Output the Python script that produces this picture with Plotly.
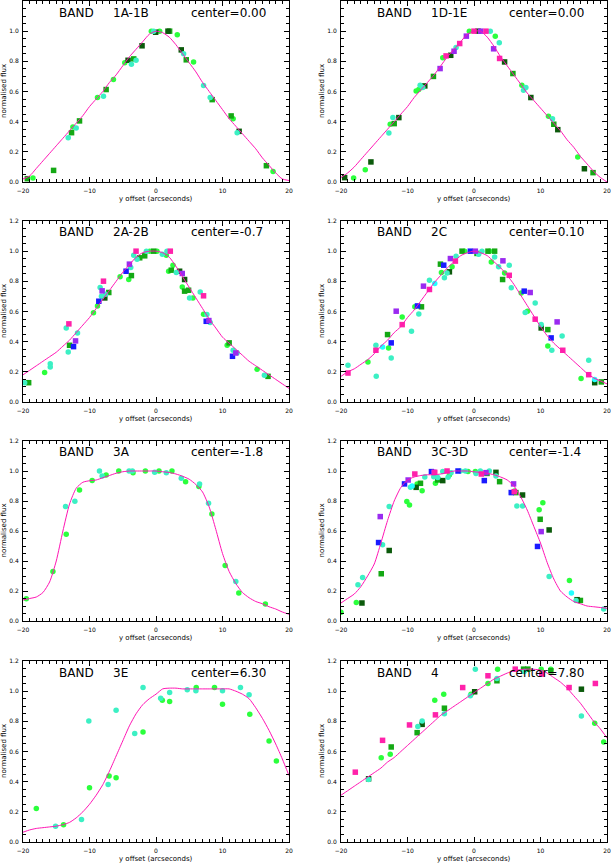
import plotly.graph_objects as go

# ---------------- data ----------------
CURVE_X = [-20, -19, -18, -17, -16, -15, -14, -13, -12, -11, -10, -9, -8, -7, -6, -5, -4, -3, -2, -1,
           0, 1, 2, 3, 4, 5, 6, 7, 8, 9, 10, 11, 12, 13, 14, 15, 16, 17, 18, 19, 20]

BANDS = ["1A-1B", "1D-1E", "2A-2B", "2C", "3A", "3C-3D", "3E", "4"]
CENTERS = ["0.00", "0.00", "-0.7", "0.10", "-1.8", "-1.4", "6.30", "7.80"]

# colour codes: L lime, G green, D dark green, T turquoise, C cyan, B blue, P purple, M magenta
P1_X = [-19.35, -18.5, -15.4, -13.2, -12.7, -12.5, -12.0, -11.5, -8.8, -7.9, -7.5, -6.4, -4.7, -4.2, -3.7,
        -3.35, -3.0, -2.1, -0.7, -0.35, -0.05, 0.55, 1.8, 2.05, 3.2, 3.8, 4.15, 4.55, 5.65, 7.15, 8.15, 8.45,
        11.3, 11.6, 12.2, 12.5, 16.6, 17.6]
P1_Y = [0.022, 0.027, 0.077, 0.294, 0.327, 0.365, 0.358, 0.405, 0.56, 0.569, 0.613, 0.679, 0.79, 0.807, 0.781,
        0.816, 0.807, 0.903, 1.0, 1.0, 0.993, 1.0, 1.0, 1.0, 0.976, 0.876, 0.85, 0.81, 0.796, 0.64, 0.56, 0.546,
        0.438, 0.42, 0.327, 0.336, 0.108, 0.069]
P1_C = "G L G T G L T G L T G L L D T G T D L T D L D G L D T G L T T G G L T D G L"
P1_CURVE = [0.02, 0.04, 0.09, 0.14, 0.19, 0.24, 0.29, 0.34, 0.39, 0.44, 0.50, 0.55, 0.60, 0.66, 0.71, 0.77,
            0.83, 0.88, 0.93, 0.98, 1.0, 0.99, 0.96, 0.91, 0.85, 0.79, 0.73, 0.66, 0.60, 0.54, 0.48, 0.42,
            0.37, 0.32, 0.27, 0.22, 0.16, 0.11, 0.06, 0.02, 0.01]

P2_X = [-19.45, -18.1, -16.35, -15.5, -12.8, -12.6, -12.2, -12.0, -11.3, -8.7, -8.3, -8.1, -7.7, -7.4, -6.1,
        -5.1, -4.7, -4.2, -3.5, -3.0, -2.7, -2.15, -1.15, -0.7, 0.0, 0.6, 1.0, 1.8, 2.45, 3.2, 2.95, 3.8, 3.85,
        4.6, 5.85, 7.2, 7.45, 7.8, 8.55, 11.2, 11.8, 12.0, 12.6, 15.6, 16.6, 17.9]
P2_Y = [0.029, 0.027, 0.082, 0.133, 0.325, 0.383, 0.427, 0.387, 0.427, 0.604, 0.613, 0.642, 0.626, 0.637, 0.70,
        0.752, 0.823, 0.836, 0.84, 0.867, 0.892, 0.918, 0.967, 1.0, 1.0, 1.0, 1.0, 1.0, 1.0, 0.967, 0.883, 0.923,
        0.819, 0.796, 0.719, 0.642, 0.608, 0.626, 0.56, 0.436, 0.42, 0.383, 0.347, 0.166, 0.088, 0.062]
P2_C = "D L L D T L T G D L L T T D G P L M D P T M P L M D P M T L P T M D G L T T D L T G D L D G"
P2_CURVE = [0.03, 0.06, 0.10, 0.15, 0.20, 0.25, 0.30, 0.35, 0.40, 0.45, 0.50, 0.56, 0.61, 0.66, 0.71, 0.77,
            0.83, 0.88, 0.93, 0.98, 1.0, 1.0, 0.96, 0.90, 0.83, 0.77, 0.71, 0.65, 0.59, 0.54, 0.49, 0.44,
            0.39, 0.34, 0.28, 0.23, 0.17, 0.12, 0.07, 0.03, 0.0]

P3_X = [-19.75, -19.15, -16.75, -15.9, -15.9, -13.5, -13.1, -13.2, -13.0, -12.4, -12.1, -11.8, -9.4, -8.8, -8.6,
        -8.4, -8.2, -8.1, -7.9, -7.7, -7.6, -7.1, -5.4, -4.5, -4.1, -4.0, -3.8, -3.7, -3.35, -3.0, -2.85, -2.45,
        -1.7, -1.45, -0.95, -0.35, 0.15, 0.95, 1.55, 1.65, 2.15, 1.9, 2.3, 2.55, 3.05, 3.55, 3.95, 3.95, 4.3, 4.3,
        4.9, 5.05, 5.55, 6.65, 7.15, 7.15, 7.65, 7.55, 7.95, 8.15, 10.7, 11.0, 11.6, 11.5, 12.0, 12.2, 15.2,
        16.3, 16.85]
P3_Y = [0.128, 0.128, 0.195, 0.254, 0.232, 0.491, 0.518, 0.332, 0.376, 0.367, 0.405, 0.458, 0.591, 0.637, 0.668,
        0.759, 0.701, 0.737, 0.801, 0.69, 0.715, 0.726, 0.83, 0.867, 0.812, 0.914, 0.892, 0.838, 0.973, 1.0,
        0.947, 0.956, 0.969, 1.0, 1.0, 1.0, 1.0, 0.98, 0.973, 1.0, 1.0, 0.867, 0.874, 0.907, 0.858, 0.867, 0.852,
        0.763, 0.812, 0.735, 0.741, 0.69, 0.69, 0.73, 0.704, 0.582, 0.58, 0.535, 0.54, 0.527, 0.376, 0.392,
        0.343, 0.303, 0.325, 0.327, 0.217, 0.177, 0.17]
P3_C = ("T G L T T T M T G B P T L L B T T P M D T G L B L P T G T M T G G T L G L T L T M L G L T D P L D G G "
        "T L T M L T B P T L G T B P T L T G")
P3_CURVE = [0.18, 0.21, 0.24, 0.27, 0.30, 0.33, 0.37, 0.41, 0.46, 0.51, 0.56, 0.62, 0.68, 0.74, 0.80, 0.86,
            0.91, 0.96, 0.99, 1.0, 1.0, 0.99, 0.96, 0.90, 0.83, 0.76, 0.69, 0.62, 0.55, 0.49, 0.43, 0.39,
            0.35, 0.31, 0.27, 0.24, 0.21, 0.18, 0.15, 0.12, 0.09]

P4_X = [-18.95, -18.95, -15.95, -14.75, -14.75, -14.7, -13.75, -12.85, -13.0, -12.45, -12.45, -11.7, -10.8, -10.8,
        -9.4, -8.9, -8.5, -8.3, -7.9, -7.6, -6.7, -6.7, -5.9, -5.05, -4.55, -4.9, -4.45, -4.05, -3.7, -3.55, -3.3,
        -2.8, -2.7, -1.8, -1.4, -0.55, 0.2, 0.45, 0.7, 1.2, 2.1, 2.35, 2.6, 3.1, 3.1, 3.7, 4.3, 4.35, 4.6, 5.3,
        5.3, 5.6, 7.1, 7.55, 7.7, 8.05, 8.45, 9.2, 9.2, 10.1, 10.1, 11.1, 11.1, 11.6, 11.7, 12.5, 13.25, 13.35,
        16.1, 17.25, 17.25, 18.15, 18.15, 19.15]
P4_Y = [0.243, 0.192, 0.265, 0.343, 0.376, 0.17, 0.365, 0.358, 0.447, 0.392, 0.292, 0.602, 0.564, 0.513, 0.469,
        0.631, 0.637, 0.584, 0.631, 0.768, 0.808, 0.746, 0.785, 0.914, 0.907, 0.858, 0.823, 0.856, 0.863, 0.951,
        0.896, 0.934, 0.967, 1.0, 1.0, 1.0, 1.0, 0.985, 0.98, 1.0, 1.0, 1.0, 0.929, 1.0, 0.962, 0.896, 0.812,
        0.936, 0.856, 0.907, 0.84, 0.757, 0.723, 0.735, 0.593, 0.602, 0.726, 0.549, 0.657, 0.513, 0.491, 0.372,
        0.48, 0.425, 0.343, 0.531, 0.438, 0.343, 0.155, 0.277, 0.181, 0.15, 0.128, 0.133]
P4_C = ("T M L M T T C L G B T P L M T L B T G P T M C G B L T T D P L M T G L B P G T T G L L G T T G P L T M T "
        "L B T L P M T T D L G B T P T M L T M C D G")
P4_CURVE = [0.17, 0.20, 0.22, 0.25, 0.28, 0.32, 0.37, 0.41, 0.46, 0.50, 0.56, 0.61, 0.67, 0.73, 0.79, 0.84,
            0.89, 0.93, 0.97, 0.99, 1.0, 0.99, 0.97, 0.93, 0.89, 0.84, 0.78, 0.71, 0.64, 0.57, 0.50, 0.44,
            0.39, 0.35, 0.31, 0.27, 0.23, 0.19, 0.16, 0.14, 0.12]

P5_X = [-19.5, -15.5, -13.6, -13.5, -12.2, -11.5, -9.6, -8.5, -8.1, -7.5, -5.6, -4.05, -3.55, -3.45, -1.6, -0.2,
        0.45, 1.55, 2.4, 3.8, 4.45, 6.45, 6.55, 7.9, 8.4, 10.4, 12.0, 12.45, 16.45]
P5_Y = [0.149, 0.33, 0.763, 0.579, 0.798, 0.874, 0.936, 1.0, 0.967, 0.973, 1.0, 1.0, 1.0, 0.989, 1.0, 0.991,
        1.0, 0.989, 1.0, 0.951, 0.929, 0.896, 0.913, 0.785, 0.714, 0.37, 0.264, 0.186, 0.113]
P5_C = "L L T L T L L T T L L T T L L T L T L T L L T T L L T L L"
P5_CURVE = [0.14, 0.15, 0.16, 0.19, 0.26, 0.40, 0.60, 0.78, 0.885, 0.925, 0.935, 0.94, 0.955, 0.97, 0.985,
            0.995, 1.0, 1.0, 1.0, 1.0, 1.0, 0.995, 0.99, 0.98, 0.965, 0.945, 0.91, 0.86, 0.76, 0.61, 0.45,
            0.33, 0.25, 0.19, 0.155, 0.13, 0.115, 0.095, 0.08, 0.06, 0.045]

P6_X = [-20.0, -17.7, -17.45, -16.85, -16.75, -14.35, -14.1, -13.95, -13.75, -12.75, -12.75, -10.45, -10.1, -9.9,
        -9.7, -9.55, -9.3, -8.9, -8.7, -8.55, -8.05, -7.8, -7.4, -6.4, -6.05, -5.9, -6.05, -5.8, -5.45, -5.45,
        -4.7, -4.7, -4.05, -3.9, -3.7, -3.45, -2.4, -2.05, -1.3, -0.9, 0.2, 0.3, 0.95, 1.1, 1.55, 1.8, 1.95,
        2.3, 3.3, 3.3, 3.85, 5.6, 5.95, 6.1, 6.05, 6.3, 6.45, 7.3, 7.3, 9.8, 9.95, 10.1, 10.35, 9.55, 11.3, 11.3,
        14.35, 14.65, 15.35, 15.5, 16.0, 19.5]
P6_Y = [0.058, 0.124, 0.242, 0.12, 0.29, 0.523, 0.696, 0.315, 0.508, 0.763, 0.47, 0.914, 0.796, 0.94, 0.774,
        0.891, 0.9, 0.98, 0.891, 0.914, 0.918, 0.869, 0.96, 0.996, 0.991, 0.991, 0.962, 0.918, 0.956, 0.94,
        0.936, 0.996, 1.0, 0.958, 0.973, 0.989, 1.0, 1.0, 1.0, 0.996, 0.996, 0.984, 1.0, 0.98, 0.936, 0.989,
        0.984, 1.0, 0.991, 0.967, 0.929, 0.856, 0.914, 0.867, 0.862, 0.856, 0.767, 0.767, 0.84, 0.741, 0.678,
        0.596, 0.789, 0.497, 0.607, 0.297, 0.27, 0.186, 0.137, 0.142, 0.137, 0.08]
P6_C = ("L L T D T B P G T T D B L P L T C M D L G L T B P M T L T G D T M T L T B T T L L T T M B P G T D T G B "
        "P L M G T T D L G P L B D T L C T D G T")
P6_CURVE = [0.12, 0.15, 0.18, 0.23, 0.30, 0.38, 0.52, 0.67, 0.80, 0.89, 0.94, 0.96, 0.97, 0.975, 0.975, 0.98,
            0.99, 1.0, 1.0, 1.0, 0.995, 0.99, 0.985, 0.975, 0.96, 0.94, 0.90, 0.83, 0.74, 0.63, 0.52, 0.39,
            0.28, 0.20, 0.16, 0.13, 0.115, 0.10, 0.095, 0.09, 0.085]

P7_X = [-18.0, -15.1, -13.9, -11.2, -10.1, -10.0, -7.2, -7.05, -6.0, -6.0, -3.2, -1.95, -1.95, 0.7, 0.95, 2.05,
        2.05, 4.7, 6.0, 6.05, 8.8, 10.0, 10.0, 12.7, 14.0, 14.1, 17.0, 18.1]
P7_Y = [0.222, 0.104, 0.115, 0.149, 0.803, 0.359, 0.381, 0.437, 0.874, 0.426, 0.72, 0.729, 1.024, 0.953, 0.94,
        0.991, 0.931, 1.009, 1.002, 1.024, 1.024, 1.002, 0.914, 1.024, 0.976, 0.847, 0.67, 0.537]
P7_C = "L T L T T L T L T L T L T T L T L T T L L T L T T L L L"
P7_CURVE = [0.065, 0.08, 0.09, 0.095, 0.10, 0.105, 0.115, 0.13, 0.16, 0.20, 0.25, 0.31, 0.38, 0.47, 0.57, 0.67,
            0.77, 0.85, 0.91, 0.95, 0.98, 1.015, 1.02, 1.02, 1.015, 1.015, 1.015, 1.015, 1.015, 1.015, 1.015,
            1.015, 1.0, 0.98, 0.95, 0.89, 0.82, 0.74, 0.65, 0.55, 0.44]

P8_X = [-17.85, -15.85, -15.85, -13.95, -13.75, -12.6, -12.45, -9.7, -8.55, -8.45, -7.8, -7.8, -5.9, -5.8, -4.55,
        -4.45, -4.45, -1.7, -0.55, -0.45, 0.1, 0.2, 2.1, 2.1, 3.45, 3.45, 3.55, 6.2, 7.45, 7.55, 8.1, 10.1, 10.2,
        11.55, 11.55, 14.3, 16.15, 16.15, 18.15, 18.25, 19.5]
P8_Y = [0.463, 0.419, 0.415, 0.559, 0.674, 0.581, 0.63, 0.776, 0.725, 0.765, 0.78, 0.803, 0.94, 0.843, 0.98,
        0.887, 0.851, 1.024, 0.969, 0.98, 0.996, 1.146, 1.102, 1.051, 1.069, 1.084, 1.146, 1.146, 1.146, 1.131,
        1.146, 1.146, 1.113, 1.135, 1.146, 1.024, 1.013, 0.836, 0.787, 1.051, 0.663]
P8_C = "M D T L M L G M G T D T L M L G T M T L D T M L G T L M G T G L M G L M D T L M L"
P8_CURVE = [0.31, 0.34, 0.37, 0.40, 0.43, 0.46, 0.49, 0.53, 0.56, 0.60, 0.64, 0.68, 0.72, 0.76, 0.80, 0.84,
            0.87, 0.90, 0.93, 0.96, 0.99, 1.02, 1.05, 1.08, 1.10, 1.12, 1.135, 1.143, 1.146, 1.145, 1.14, 1.12,
            1.09, 1.06, 1.02, 0.97, 0.92, 0.86, 0.80, 0.75, 0.69]

X_TICKS = [-20, -10, 0, 10, 20]
Y_TICKS = [0.0, 0.2, 0.4, 0.6, 0.8, 1.0, 1.2]

# ---------------- styles ----------------
COLORS = {"L": "#2BFF3C", "G": "#14A814", "D": "#0B5A0B", "T": "#3CF0C4",
          "C": "#22FFFF", "B": "#1A1AFF", "P": "#9A2BF0", "M": "#FF22AA"}
SYMBOLS = {"L": "circle", "G": "square", "D": "square", "T": "circle",
           "C": "circle", "B": "square", "P": "square", "M": "square"}
CURVE_COLOR = "#FF14B4"
FONT = "DejaVu Sans"

W, H = 611, 864
COL_PX = [(23, 289), (341, 607)]
ROW_PX = [(1, 182), (221, 402), (441, 621), (661, 842)]

panels = [
    (P1_X, P1_Y, P1_C, P1_CURVE), (P2_X, P2_Y, P2_C, P2_CURVE),
    (P3_X, P3_Y, P3_C, P3_CURVE), (P4_X, P4_Y, P4_C, P4_CURVE),
    (P5_X, P5_Y, P5_C, P5_CURVE), (P6_X, P6_Y, P6_C, P6_CURVE),
    (P7_X, P7_Y, P7_C, P7_CURVE), (P8_X, P8_Y, P8_C, P8_CURVE),
]

fig = go.Figure()
layout = dict(width=W, height=H, margin=dict(l=0, r=0, t=0, b=0, autoexpand=False),
              paper_bgcolor="white", plot_bgcolor="white", showlegend=False, hovermode=False)
annotations = []

for i, (px, py, pc, pcurve) in enumerate(panels):
    row, col = divmod(i, 2)
    suf = "" if i == 0 else str(i + 1)
    xa, ya = "x" + suf, "y" + suf
    x0, x1 = COL_PX[col]
    t0, t1 = ROW_PX[row]
    pw, ph = x1 - x0, t1 - t0
    common = dict(ticks="inside", ticklen=5, tickwidth=1, tickcolor="black",
                  showline=True, linecolor="black", linewidth=1, mirror="ticks",
                  showgrid=False, zeroline=False, automargin=False,
                  tickfont=dict(family=FONT, size=6, color="black"))
    layout["xaxis" + suf] = dict(domain=[x0 / W, x1 / W], range=[-20, 20], anchor=ya,
                                 tickmode="array", tickvals=X_TICKS, ticklabelstandoff=3,
                                 minor=dict(ticks="inside", ticklen=3, tickcolor="black",
                                            tickmode="linear", tick0=0, dtick=1, showgrid=False),
                                 **common)
    layout["yaxis" + suf] = dict(domain=[1 - t1 / H, 1 - t0 / H], range=[0, 1.2], anchor=xa,
                                 tickmode="array", tickvals=Y_TICKS, tickformat=".1f", ticklabelstandoff=2,
                                 minor=dict(ticks="inside", ticklen=3, tickcolor="black",
                                            tickmode="linear", tick0=0, dtick=0.05, showgrid=False),
                                 **common)

    codes = pc.split()
    for code in COLORS:
        xs = [x for x, c in zip(px, codes) if c == code]
        ys = [y for y, c in zip(py, codes) if c == code]
        if not xs:
            continue
        fig.add_trace(go.Scatter(x=xs, y=ys, mode="markers", xaxis=xa, yaxis=ya,
                                 marker=dict(color=COLORS[code], symbol=SYMBOLS[code], size=5.5,
                                             line=dict(width=0))))
    fig.add_trace(go.Scatter(x=CURVE_X, y=pcurve, mode="lines", xaxis=xa, yaxis=ya,
                             line=dict(color=CURVE_COLOR, width=1, shape="spline", smoothing=0.6)))

    xd, yd = xa + " domain", ya + " domain"
    ty = 1 - 11.5 / ph
    tfont = dict(family=FONT, size=12, color="black")
    annotations += [
        dict(text="BAND", xref=xd, yref=yd, x=0.127, y=ty, xanchor="left", yanchor="middle",
             showarrow=False, font=tfont),
        dict(text=BANDS[i], xref=xd, yref=yd, x=0.33, y=ty, xanchor="left", yanchor="middle",
             showarrow=False, font=tfont),
        dict(text="center=" + CENTERS[i], xref=xd, yref=yd, x=0.625, y=ty, xanchor="left",
             yanchor="middle", showarrow=False, font=tfont),
        dict(text="y offset (arcseconds)", xref=xd, yref=yd, x=0.5, y=-17 / ph, xanchor="center",
             yanchor="middle", showarrow=False, font=dict(family=FONT, size=7, color="black")),
        dict(text="normalised flux", xref=xd, yref=yd, x=-19.5 / pw, y=0.5, xanchor="center",
             yanchor="middle", textangle=-90, showarrow=False,
             font=dict(family=FONT, size=7, color="black")),
    ]

layout["annotations"] = annotations
fig.update_layout(**layout)
fig.write_html("out.html", config={"displayModeBar": False, "staticPlot": True},
               post_script="document.body.style.margin='0';document.body.style.overflow='hidden';")
